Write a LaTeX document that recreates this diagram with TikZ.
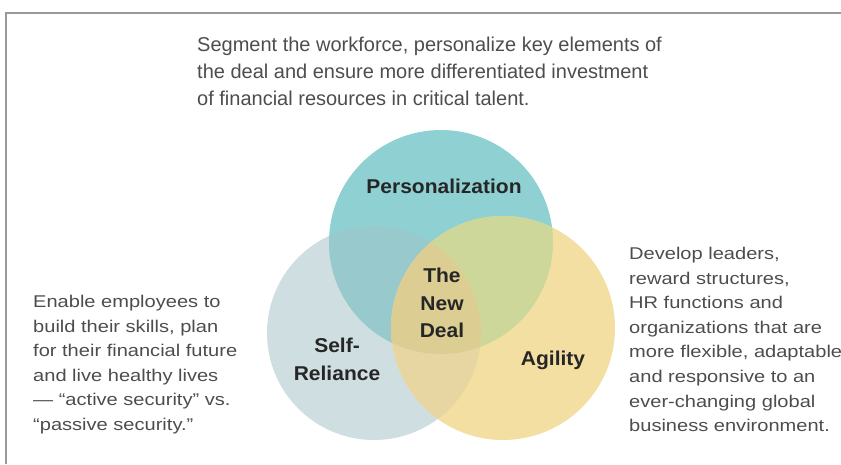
\documentclass[tikz,border=0pt]{standalone}
\usepackage{fontspec}
\setmainfont{Liberation Sans}
\newfontfamily\topfont{Liberation Sans}
\newfontfamily\sidefont[FakeStretch=1.18]{Liberation Sans}
\newfontfamily\labelfont[FakeStretch=1.05]{Liberation Sans}

\definecolor{persCor}{HTML}{8FD0D3}
\definecolor{selfCor}{HTML}{CFDFE1}
\definecolor{agilCor}{HTML}{F3DFA2}
\definecolor{persSelf}{HTML}{98C9CD}
\definecolor{persAgil}{HTML}{CDD79A}
\definecolor{selfAgil}{HTML}{E8D6A2}
\definecolor{dealCor}{HTML}{DCCD92}
\definecolor{textoCor}{HTML}{4D4D4D}
\definecolor{moldura}{HTML}{999999}

\begin{document}
\begin{tikzpicture}[x=1pt,y=-1pt,
    texto/.style={inner sep=0, text=textoCor, align=left, anchor=north west},
    rotulo/.style={inner sep=0, text=black!85, align=center, font=\labelfont\bfseries\fontsize{20}{27.5}\selectfont}]
    \useasboundingbox (0,0) rectangle (841,464);

    % Moldura
    \draw[moldura, line width=1.5pt] (6,464) -- (6,13) -- (841,13);

    % Centros
    \coordinate (pers) at (441,242);
    \coordinate (self) at (374,333);
    \coordinate (agil) at (503,328);

    % Circulos
    \fill[selfCor] (self) circle (107pt);
    \fill[persCor] (pers) circle (112pt);
    \fill[agilCor] (agil) circle (112pt);

    % Intersecoes
    \begin{scope}
        \clip (pers) circle (112pt);
        \fill[persSelf] (self) circle (107pt);
        \fill[persAgil] (agil) circle (112pt);
    \end{scope}
    \begin{scope}
        \clip (self) circle (107pt);
        \fill[selfAgil] (agil) circle (112pt);
    \end{scope}
    \begin{scope}
        \clip (pers) circle (112pt);
        \clip (self) circle (107pt);
        \fill[dealCor] (agil) circle (112pt);
    \end{scope}

    % Rotulos
    \node[rotulo, anchor=base] (lblPers) at (444,193) {Personalization};
    \node[rotulo, anchor=north] (lblDeal) at (442,268) {The\\New\\Deal};
    \node[rotulo, anchor=north] (lblSelf) at (337,338) {Self-\\Reliance};
    \node[rotulo, anchor=base] (lblAgil) at (553,365) {Agility};

    % Textos
    \node[texto, font=\topfont\fontsize{20}{27}\selectfont] (txtTop) at (197,37)
        {Segment the workforce, personalize key elements of\\
         the deal and ensure more differentiated investment\\
         of financial resources in critical talent.};
    \node[texto, font=\sidefont\fontsize{17}{24.5}\selectfont] (txtLeft) at (33,295)
        {Enable employees to\\
         build their skills, plan\\
         for their financial future\\
         and live healthy lives\\
         — “active security” vs.\\
         “passive security.”};
    \node[texto, font=\sidefont\fontsize{17}{24.6}\selectfont] (txtRight) at (629,247)
        {Develop leaders,\\
         reward structures,\\
         HR functions and\\
         organizations that are\\
         more flexible, adaptable\\
         and responsive to an\\
         ever-changing global\\
         business environment.};
\end{tikzpicture}
\end{document}
